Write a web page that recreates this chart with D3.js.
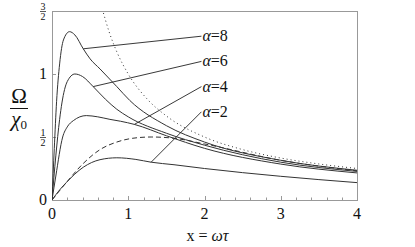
<!DOCTYPE html>
<html>
<head>
<meta charset="utf-8">
<script src="https://cdn.jsdelivr.net/npm/d3@7"></script>
<style>
  body { margin: 0; background: #fff; }
  svg { display: block; }
</style>
</head>
<body>
<div id="chart"></div>
<script>
'use strict'

const WIDTH = 415
const HEIGHT = 247
const margin = { left: 52, right: 58, top: 11, bottom: 47 }
const FONT = "'Liberation Serif', serif"

// curves, [x, Omega/chi0]
const alpha8 = [[0, 0], [0.03, 0.41], [0.06, 0.78], [0.1, 1.08], [0.15, 1.27], [0.23, 1.336], [0.3, 1.31], [0.41, 1.2], [0.5, 1.12], [0.63, 1.04], [0.85, 0.9], [1.02, 0.79], [1.5, 0.59], [2, 0.46], [3, 0.315], [4, 0.236]]
const alpha6 = [[0, 0], [0.05, 0.35], [0.1, 0.64], [0.13, 0.77], [0.2, 0.94], [0.3, 1.0], [0.4, 0.98], [0.54, 0.9], [0.7, 0.8], [0.85, 0.72], [1.0, 0.66], [1.5, 0.53], [2, 0.435], [3, 0.3], [4, 0.227]]
const alpha4 = [[0, 0], [0.05, 0.19], [0.14, 0.5], [0.2, 0.58], [0.28, 0.63], [0.45, 0.67], [0.6, 0.66], [0.76, 0.64], [0.9, 0.625], [1.08, 0.6], [1.5, 0.51], [2, 0.41], [3, 0.285], [4, 0.215]]
const alpha2 = [[0, 0], [0.1, 0.08], [0.19, 0.14], [0.41, 0.26], [0.63, 0.32], [0.85, 0.335], [1.1, 0.322], [1.3, 0.3], [1.6, 0.28], [2, 0.25], [3, 0.188], [4, 0.138]]
const dashedCurve = [[0, 0], [0.19, 0.14], [0.41, 0.29], [0.63, 0.4], [0.85, 0.46], [1.06, 0.49], [1.3, 0.5], [1.6, 0.49], [2, 0.445], [3, 0.315], [4, 0.232]]
const dottedCurve = [[0.66, 1.515], [0.75, 1.333], [0.85, 1.176], [1, 1], [1.25, 0.8], [1.5, 0.667], [2, 0.5], [2.5, 0.4], [3, 0.333], [3.5, 0.286], [4, 0.25]]

const labelNames = ['8', '6', '4', '2']
const labelSeries = [alpha8, alpha6, alpha4, alpha2]
const labelAnchorX = [0.41, 0.54, 1.08, 1.3]
const labelTextY = [1.3, 1.1, 0.9, 0.7]
const labelTextX = 1.96

const xTicks = [0, 1, 2, 3, 4]
const xMinorTicks = d3.range(0, 4.01, 0.2)
const yTicks = [
  { v: 0, t: '0' },
  { v: 0.5, t: ['1', '2'] },
  { v: 1, t: '1' },
  { v: 1.5, t: ['3', '2'] }
]

const frameColor = '#999'
const curveColor = '#333'

const svg = d3.select('#chart').append('svg')
  .attr('width', WIDTH)
  .attr('height', HEIGHT)

function addText (parent, size) {
  return parent.append('text')
    .style('font-family', FONT)
    .attr('font-size', size)
    .attr('fill', '#111')
}

const x = d3.scaleLinear().domain([0, 4]).range([margin.left, WIDTH - margin.right])
const y = d3.scaleLinear().domain([0, 1.5]).range([HEIGHT - margin.bottom, margin.top])

svg.append('clipPath').attr('id', 'plot-clip')
  .append('rect')
  .attr('x', x(0)).attr('y', y(1.5))
  .attr('width', x(4) - x(0)).attr('height', y(0) - y(1.5))

// frame
svg.append('rect')
  .attr('x', x(0) + 0.5).attr('y', y(1.5) + 0.5)
  .attr('width', x(4) - x(0)).attr('height', y(0) - y(1.5))
  .attr('fill', 'none')
  .attr('stroke', frameColor)
  .attr('stroke-width', 1)

// ticks
svg.append('g').selectAll('line')
  .data(xMinorTicks)
  .enter().append('line')
  .attr('x1', (d) => Math.round(x(d)) + 0.5)
  .attr('x2', (d) => Math.round(x(d)) + 0.5)
  .attr('y1', y(0))
  .attr('y2', (d) => y(0) - (Math.abs(d - Math.round(d)) < 1e-6 ? 4 : 2.5))
  .attr('stroke', frameColor)

svg.append('g').selectAll('line')
  .data(yTicks)
  .enter().append('line')
  .attr('x1', x(0))
  .attr('x2', x(0) + 4)
  .attr('y1', (d) => Math.round(y(d.v)) + 0.5)
  .attr('y2', (d) => Math.round(y(d.v)) + 0.5)
  .attr('stroke', frameColor)

xTicks.forEach((d) => {
  addText(svg, 16)
    .attr('x', x(d))
    .attr('y', y(0) + 19)
    .attr('text-anchor', 'middle')
    .text(d)
})

yTicks.forEach((d) => {
  const cx = x(0) - 9
  if (typeof d.t === 'string') {
    addText(svg, 16)
      .attr('x', cx)
      .attr('y', y(d.v) + 5)
      .attr('text-anchor', 'middle')
      .text(d.t)
  } else {
    addText(svg, 10)
      .attr('x', cx).attr('y', y(d.v) - 1.5)
      .attr('text-anchor', 'middle')
      .text(d.t[0])
    svg.append('line')
      .attr('x1', cx - 3).attr('x2', cx + 3)
      .attr('y1', y(d.v) + 0.5).attr('y2', y(d.v) + 0.5)
      .attr('stroke', '#111').attr('stroke-width', 0.7)
    addText(svg, 10)
      .attr('x', cx).attr('y', y(d.v) + 9)
      .attr('text-anchor', 'middle')
      .text(d.t[1])
  }
})

// curves
const line = d3.line()
  .x((d) => x(d[0]))
  .y((d) => y(d[1]))
  .curve(d3.curveMonotoneX)

const curves = svg.append('g').attr('clip-path', 'url(#plot-clip)')

curves.append('path')
  .datum(dottedCurve)
  .attr('d', line)
  .attr('fill', 'none')
  .attr('stroke', curveColor)
  .attr('stroke-width', 1)
  .attr('stroke-dasharray', '1,3')

curves.append('path')
  .datum(dashedCurve)
  .attr('d', line)
  .attr('fill', 'none')
  .attr('stroke', curveColor)
  .attr('stroke-width', 1)
  .attr('stroke-dasharray', '5,3')

curves.selectAll('path.solid')
  .data([alpha8, alpha6, alpha4, alpha2])
  .enter().append('path')
  .attr('class', 'solid')
  .attr('d', line)
  .attr('fill', 'none')
  .attr('stroke', curveColor)
  .attr('stroke-width', 1)

// labels with pointer lines
labelNames.forEach((name, i) => {
  const anchor = labelSeries[i].find((p) => p[0] === labelAnchorX[i])
  svg.append('line')
    .attr('x1', x(anchor[0])).attr('y1', y(anchor[1]))
    .attr('x2', x(labelTextX)).attr('y2', y(labelTextY[i]))
    .attr('stroke', '#222')
    .attr('stroke-width', 0.9)
  const t = addText(svg, 16)
    .attr('x', x(labelTextX) + 1)
    .attr('y', y(labelTextY[i]) + 5)
  t.append('tspan').attr('font-style', 'italic').text('α')
  t.append('tspan').text('=' + name)
})

// axis titles
const xt = addText(svg, 16)
  .attr('x', (x(0) + x(4)) / 2 + 3)
  .attr('y', HEIGHT - 6)
  .attr('text-anchor', 'middle')
xt.append('tspan').text('x = ')
xt.append('tspan').attr('font-style', 'italic').text('ωτ')

addText(svg, 21)
  .attr('x', 19).attr('y', 103)
  .attr('text-anchor', 'middle')
  .text('Ω')
svg.append('line')
  .attr('x1', 10).attr('x2', 28)
  .attr('y1', 108.5).attr('y2', 108.5)
  .attr('stroke', '#111').attr('stroke-width', 1)
const yt = addText(svg, 21)
  .attr('x', 19).attr('y', 126)
  .attr('text-anchor', 'middle')
yt.append('tspan').attr('font-style', 'italic').text('χ')
yt.append('tspan').attr('font-size', 13).attr('dy', 3).text('0')
</script>
</body>
</html>
